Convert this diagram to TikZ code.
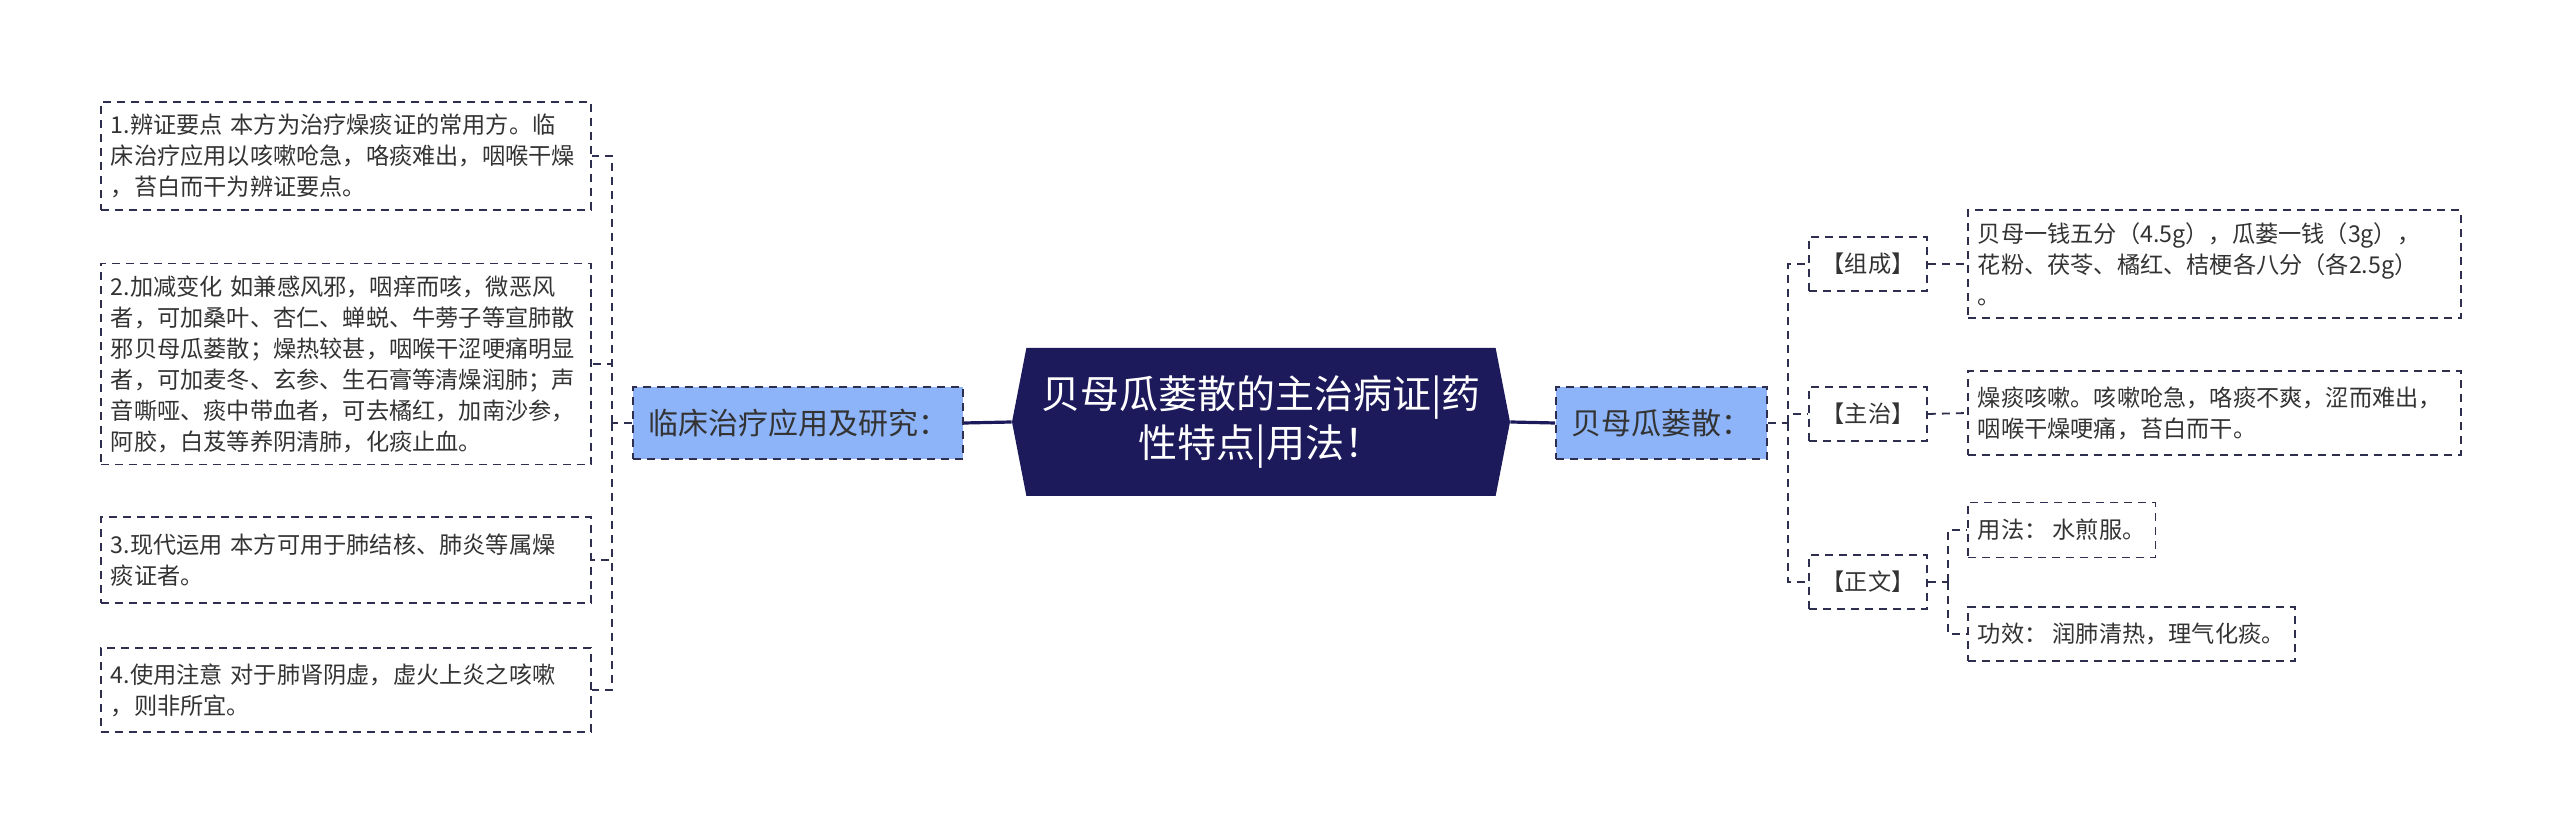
\documentclass[tikz,border=0pt]{standalone}
\usepackage{fontspec}
\setmainfont{Noto Sans CJK SC}
\usetikzlibrary{shapes.symbols}
\definecolor{navy}{HTML}{1C1A5A}
\definecolor{lblue}{HTML}{8DB4F8}
\definecolor{linec}{HTML}{2E2E4E}
\definecolor{txt}{HTML}{333333}
\tikzset{
  dsh/.style={dash pattern=on 4pt off 3pt},
  link/.style={draw=linec, line width=0.9pt, dsh},
  trunk/.style={draw=navy, line width=1.6pt},
  root/.style={signal, signal to=west and east, signal pointer angle=158,
    fill=navy, text=white, align=center, inner sep=0pt,
    minimum width=249pt, minimum height=74pt,
    font=\fontsize{19.5pt}{24.5pt}\selectfont},
  sub/.style={draw=linec, line width=0.9pt, dsh, fill=lblue, text=txt,
    minimum height=36pt, inner xsep=7pt, font=\fontsize{15pt}{18pt}\selectfont},
  tag/.style={draw=linec, line width=0.9pt, dsh, text=txt, inner sep=0pt,
    minimum width=59pt, minimum height=27pt, font=\fontsize{11.6pt}{14pt}\selectfont},
  leaf/.style={draw=linec, line width=0.9pt, dsh, text=txt, anchor=west, align=left,
    inner xsep=5pt, inner ysep=6pt, font=\fontsize{11.6pt}{15.5pt}\selectfont},
}
\begin{document}
\begin{tikzpicture}[x=0.5pt, y=-0.5pt]
    \fill[white] (0,0) rectangle (2560,833);
    \useasboundingbox (0,0) rectangle (2560,833);
    % 中心主题
    \node[root] (main) at (1261,422) {贝母瓜蒌散的主治病证|药\\性特点|用法！};
    % 一级分支
    \node[sub, minimum width=165pt] (clin) at (798,423) {临床治疗应用及研究：};
    \node[sub, minimum width=105.5pt] (fang) at (1661.5,423) {贝母瓜蒌散：};
    \draw[trunk] (main.west) -- (clin.east);
    \draw[trunk] (main.east) -- (fang.west);
    % 左侧叶子
    \node[leaf, text width=235pt] (b1) at (100,156) {1.辨证要点 本方为治疗燥痰证的常用方。临\\床治疗应用以咳嗽呛急，咯痰难出，咽喉干燥\\，苔白而干为辨证要点。};
    \node[leaf, text width=235pt] (b2) at (100,364) {2.加减变化 如兼感风邪，咽痒而咳，微恶风\\者，可加桑叶、杏仁、蝉蜕、牛蒡子等宣肺散\\邪贝母瓜蒌散；燥热较甚，咽喉干涩哽痛明显\\者，可加麦冬、玄参、生石膏等清燥润肺；声\\音嘶哑、痰中带血者，可去橘红，加南沙参，\\阿胶，白芨等养阴清肺，化痰止血。};
    \node[leaf, text width=235pt, minimum height=43pt] (b3) at (100,560) {3.现代运用 本方可用于肺结核、肺炎等属燥\\痰证者。};
    \node[leaf, text width=235pt, minimum height=42pt] (b4) at (100,690) {4.使用注意 对于肺肾阴虚，虚火上炎之咳嗽\\，则非所宜。};
    \coordinate (jl) at (612,423);
    \draw[link] (clin.west) -- (jl);
    \foreach \b in {b1,b2,b3,b4}
        \draw[link] (jl) |- (\b.east);
    % 右侧二级
    \node[tag] (zc) at (1868,264) {【组成】};
    \node[tag] (zz) at (1868,414) {【主治】};
    \node[tag] (zw) at (1868,582) {【正文】};
    \coordinate (jr) at (1788,423);
    \draw[link] (fang.east) -- (jr);
    \foreach \b in {zc,zz,zw}
        \draw[link] (jr) |- (\b.west);
    % 右侧叶子
    \node[leaf, text width=236.5pt] (zct) at (1967,264) {贝母一钱五分（4.5g），瓜蒌一钱（3g），\\花粉、茯苓、橘红、桔梗各八分（各2.5g）\\。};
    \node[leaf, text width=236.5pt, minimum height=42pt] (zzt) at (1967,413) {燥痰咳嗽。咳嗽呛急，咯痰不爽，涩而难出，\\咽喉干燥哽痛，苔白而干。};
    \node[leaf, minimum height=27.5pt] (yf) at (1967,530) {用法： 水煎服。};
    \node[leaf, minimum height=27pt] (gx) at (1967,634) {功效： 润肺清热，理气化痰。};
    \draw[link] (zc.east) -- (zct.west);
    \draw[link] (zz.east) -- (zzt.west);
    \coordinate (jw) at (1948,582);
    \draw[link] (zw.east) -- (jw);
    \foreach \b in {yf,gx}
        \draw[link] (jw) |- (\b.west);
\end{tikzpicture}
\end{document}
